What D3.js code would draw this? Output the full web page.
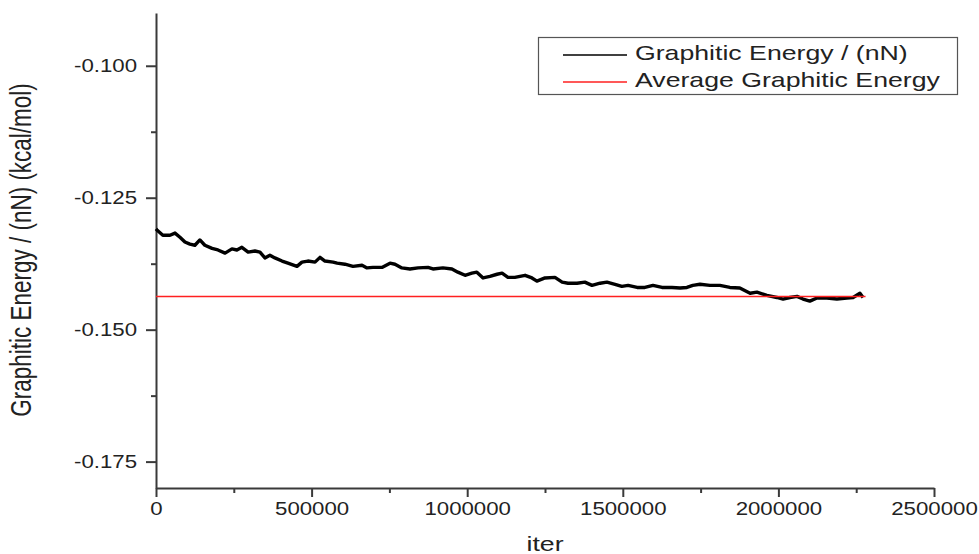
<!DOCTYPE html>
<html>
<head>
<meta charset="utf-8">
<script src="https://cdn.jsdelivr.net/npm/d3@7"></script>
<style>
  body { margin: 0; background: #fff; }
  text { font-family: "Liberation Sans", Arial, sans-serif; fill: #222; }
</style>
</head>
<body>
<svg id="chart" width="979" height="554"></svg>
<script>
// values
const iters = [0, 3000, 22000, 45000, 61000, 77000, 93000, 109000, 125000, 141000, 157000, 180000, 199000, 222000, 244000, 260000, 276000, 296000, 318000, 334000, 350000, 366000, 382000, 405000, 424000, 453000, 469000, 488000, 511000, 527000, 543000, 569000, 582000, 607000, 633000, 662000, 678000, 697000, 726000, 752000, 768000, 790000, 816000, 842000, 874000, 890000, 922000, 951000, 970000, 993000, 1015000, 1031000, 1051000, 1073000, 1096000, 1112000, 1131000, 1153000, 1186000, 1208000, 1224000, 1250000, 1282000, 1305000, 1324000, 1353000, 1378000, 1401000, 1427000, 1449000, 1475000, 1497000, 1517000, 1546000, 1571000, 1597000, 1626000, 1658000, 1684000, 1706000, 1725000, 1748000, 1780000, 1812000, 1844000, 1876000, 1909000, 1931000, 1963000, 1995000, 2015000, 2037000, 2060000, 2079000, 2101000, 2124000, 2156000, 2188000, 2220000, 2240000, 2262000, 2272000];
const energy = [-0.1309, -0.1311, -0.1321, -0.1321, -0.1317, -0.1325, -0.1334, -0.1338, -0.1340, -0.1330, -0.1340, -0.1346, -0.1349, -0.1355, -0.1347, -0.1349, -0.1344, -0.1353, -0.1351, -0.1353, -0.1364, -0.1359, -0.1364, -0.1370, -0.1374, -0.1380, -0.1372, -0.1370, -0.1372, -0.1363, -0.1370, -0.1372, -0.1374, -0.1376, -0.1380, -0.1378, -0.1383, -0.1382, -0.1382, -0.1374, -0.1376, -0.1383, -0.1385, -0.1383, -0.1382, -0.1385, -0.1383, -0.1385, -0.1391, -0.1397, -0.1393, -0.1391, -0.1402, -0.1399, -0.1395, -0.1393, -0.1401, -0.1401, -0.1397, -0.1402, -0.1408, -0.1402, -0.1401, -0.1410, -0.1412, -0.1412, -0.1410, -0.1416, -0.1412, -0.1410, -0.1414, -0.1418, -0.1416, -0.1420, -0.1420, -0.1416, -0.1420, -0.1420, -0.1421, -0.1420, -0.1416, -0.1414, -0.1416, -0.1416, -0.1420, -0.1421, -0.1431, -0.1429, -0.1435, -0.1439, -0.1442, -0.1439, -0.1437, -0.1442, -0.1446, -0.1440, -0.1440, -0.1442, -0.1440, -0.1439, -0.1431, -0.1439];
const avgIters = [0, 2280000];
const avgEnergy = [-0.1437, -0.1437];

const xTicks = [0, 500000, 1000000, 1500000, 2000000, 2500000];
const xMinor = [250000, 750000, 1250000, 1750000, 2250000];
const yTicks = [-0.175, -0.150, -0.125, -0.100];
const yMinor = [-0.1625, -0.1375, -0.1125];

const legendLabels = ['Graphitic Energy / (nN)', 'Average Graphitic Energy'];
const legendColors = ['#000', '#ff2020'];

const svg = d3.select('#chart');
const plotLeft = 156, plotRight = 934, plotTop = 13, plotBottom = 488;
const stretch = 1.27; // the reference text is widened horizontally

const x = d3.scaleLinear().domain([0, 2500000]).range([plotLeft, plotRight]);
const y = d3.scaleLinear().domain([-0.180, -0.090]).range([plotBottom, plotTop]);

const axisColor = '#3a3a3a';
const fmtY = d => d.toFixed(3); // plain hyphen minus, like the reference

// minor ticks first
svg.append('g')
    .attr('transform', `translate(0,${plotBottom})`)
    .call(d3.axisBottom(x).tickValues(xMinor).tickSize(5).tickFormat(''))
    .call(g => g.select('.domain').remove())
    .call(g => g.selectAll('line').attr('stroke', axisColor).attr('stroke-width', 2));

svg.append('g')
    .attr('transform', `translate(${plotLeft},0)`)
    .call(d3.axisLeft(y).tickValues(yMinor).tickSize(5).tickFormat(''))
    .call(g => g.select('.domain').remove())
    .call(g => g.selectAll('line').attr('stroke', axisColor).attr('stroke-width', 2));

// major axes
const xAxis = svg.append('g')
    .attr('transform', `translate(0,${plotBottom})`)
    .call(d3.axisBottom(x).tickValues(xTicks).tickSize(9).tickSizeOuter(0).tickPadding(6).tickFormat(d3.format('d')));
xAxis.select('.domain').attr('stroke', axisColor).attr('stroke-width', 2);
xAxis.selectAll('line').attr('stroke', axisColor).attr('stroke-width', 2);
xAxis.selectAll('text')
    .attr('font-size', 17.5)
    .attr('font-family', '"Liberation Sans", Arial, sans-serif')
    .attr('fill', '#222')
    .attr('transform', `scale(${stretch},1)`);

const yAxis = svg.append('g')
    .attr('transform', `translate(${plotLeft},0)`)
    .call(d3.axisLeft(y).tickValues(yTicks).tickSize(10).tickSizeOuter(0).tickFormat(fmtY));
yAxis.select('.domain').attr('stroke', axisColor).attr('stroke-width', 2);
yAxis.selectAll('line').attr('stroke', axisColor).attr('stroke-width', 2);
yAxis.selectAll('text')
    .attr('font-size', 17.5)
    .attr('font-family', '"Liberation Sans", Arial, sans-serif')
    .attr('fill', '#222')
    .attr('x', 0)
    .attr('transform', `translate(-19,0) scale(${stretch},1)`);

// axis titles
svg.append('text')
    .attr('transform', `translate(545,551) scale(${stretch},1)`)
    .attr('text-anchor', 'middle')
    .attr('font-size', 21)
    .text('iter');

svg.append('text')
    .attr('transform', `translate(31,250) scale(${stretch},1) rotate(-90)`)
    .attr('text-anchor', 'middle')
    .attr('font-size', 22.5)
    .text('Graphitic Energy / (nN) (kcal/mol)');

// data
const pts = iters.map((d, i) => [d, energy[i]]);
const avgPts = avgIters.map((d, i) => [d, avgEnergy[i]]);
const line = d3.line().x(d => x(d[0])).y(d => y(d[1]));

svg.append('path')
    .attr('d', line(pts))
    .attr('fill', 'none')
    .attr('stroke', '#000')
    .attr('stroke-width', 3.4)
    .attr('stroke-linejoin', 'round');

svg.append('path')
    .attr('d', line(avgPts))
    .attr('fill', 'none')
    .attr('stroke', legendColors[1])
    .attr('stroke-width', 1.5);

// legend
const legend = svg.append('g');
legend.append('rect')
    .attr('x', 538.5).attr('y', 37.5)
    .attr('width', 419).attr('height', 57)
    .attr('fill', '#fff')
    .attr('stroke', '#555')
    .attr('stroke-width', 1.2);

legendLabels.forEach((label, i) => {
    const ly = 55 + i * 27;
    legend.append('line')
        .attr('x1', 563).attr('x2', 627)
        .attr('y1', ly).attr('y2', ly)
        .attr('stroke', legendColors[i])
        .attr('stroke-width', 1.5);
    legend.append('text')
        .attr('transform', `translate(635,${ly + 5}) scale(${stretch},1)`)
        .attr('font-size', 21)
        .text(label);
});
</script>
</body>
</html>
